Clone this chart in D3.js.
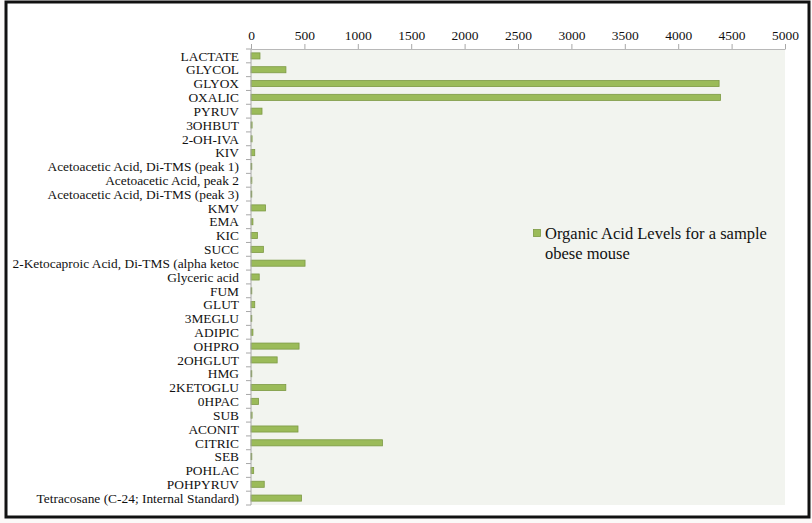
<!DOCTYPE html>
<html><head><meta charset="utf-8">
<script src="https://cdn.jsdelivr.net/npm/d3@7"></script>
<style>
html,body{margin:0;padding:0;background:#fbf9f8;}
svg{display:block;}
</style></head>
<body>
<svg id="chart" width="812" height="523"></svg>
<script>
const categories = ["LACTATE","GLYCOL","GLYOX","OXALIC","PYRUV","3OHBUT","2-OH-IVA","KIV",
"Acetoacetic Acid, Di-TMS (peak 1)","Acetoacetic Acid, peak 2","Acetoacetic Acid, Di-TMS (peak 3)",
"KMV","EMA","KIC","SUCC","2-Ketocaproic Acid, Di-TMS (alpha ketoc","Glyceric acid","FUM","GLUT",
"3MEGLU","ADIPIC","OHPRO","2OHGLUT","HMG","2KETOGLU","0HPAC","SUB","ACONIT","CITRIC","SEB",
"POHLAC","POHPYRUV","Tetracosane (C-24; Internal Standard)"];
const values = [84,327,4383,4397,103,10,10,35,5,8,3,136,18,60,116,506,77,3,35,3,18,450,245,3,326,71,10,440,1231,3,25,124,473];
const xTicks = [0,500,1000,1500,2000,2500,3000,3500,4000,4500,5000];
const legendLines = ["Organic Acid Levels for a sample","obese mouse"];

const svg = d3.select("#chart");
const font = "'Liberation Serif', serif";
svg.append("rect").attr("x",0).attr("y",0).attr("width",812).attr("height",523).attr("fill","#fbf9f8");
svg.append("rect").attr("x",6).attr("y",2).attr("width",803).attr("height",515)
  .attr("fill","#ffffff").attr("stroke","#111").attr("stroke-width",3);

const L=251,R=785,T=49,B=505;
const x = d3.scaleLinear().domain([0,5000]).range([L,R]);
const y = d3.scaleBand().domain(categories).range([T,B]).paddingInner(0.56).paddingOuter(0.28);

svg.append("rect").attr("x",L).attr("y",T).attr("width",R-L).attr("height",B-T).attr("fill","#f2f4ef");

// bars
svg.append("g").selectAll("rect").data(categories).join("rect")
  .attr("x",x(0)).attr("y",d=>y(d))
  .attr("width",(d,i)=>Math.max(0.8,x(values[i])-x(0)))
  .attr("height",y.bandwidth())
  .attr("fill","#9bbb59").attr("stroke","#7d9a44").attr("stroke-width",0.8);

// top axis
const ax = svg.append("g").attr("transform",`translate(0,${T})`)
  .call(d3.axisTop(x).tickValues(xTicks).tickFormat(d3.format("d")).tickSize(5).tickPadding(4).tickSizeOuter(0));
ax.select(".domain").attr("stroke","#b8b8b8");
ax.selectAll(".tick line").attr("stroke","#a8a8a8");
ax.selectAll(".tick text").attr("font-family",font).attr("font-size",13.5).attr("fill","#111");

// left axis
svg.append("line").attr("x1",L).attr("x2",L).attr("y1",T).attr("y2",B).attr("stroke","#a8a8a8");
svg.append("g").selectAll("line").data(d3.range(categories.length+1)).join("line")
  .attr("x1",L-5).attr("x2",L)
  .attr("y1",i=>T+i*(B-T)/categories.length).attr("y2",i=>T+i*(B-T)/categories.length)
  .attr("stroke","#a8a8a8");

svg.append("g").selectAll("text").data(categories).join("text")
  .attr("x",239).attr("y",d=>y(d)+y.bandwidth()/2).attr("dy","0.35em")
  .attr("text-anchor","end").attr("font-family",font).attr("font-size",13.4).attr("fill","#111")
  .text(d=>d);

// legend
svg.append("rect").attr("x",533.5).attr("y",229.5).attr("width",7).attr("height",7)
  .attr("fill","#9bbb59").attr("stroke","#7d9a44").attr("stroke-width",0.8);
svg.append("g").selectAll("text").data(legendLines).join("text")
  .attr("x",545).attr("y",(d,i)=>239+i*20)
  .attr("font-family",font).attr("font-size",16.5).attr("fill","#111").text(d=>d);
</script>
</body></html>
